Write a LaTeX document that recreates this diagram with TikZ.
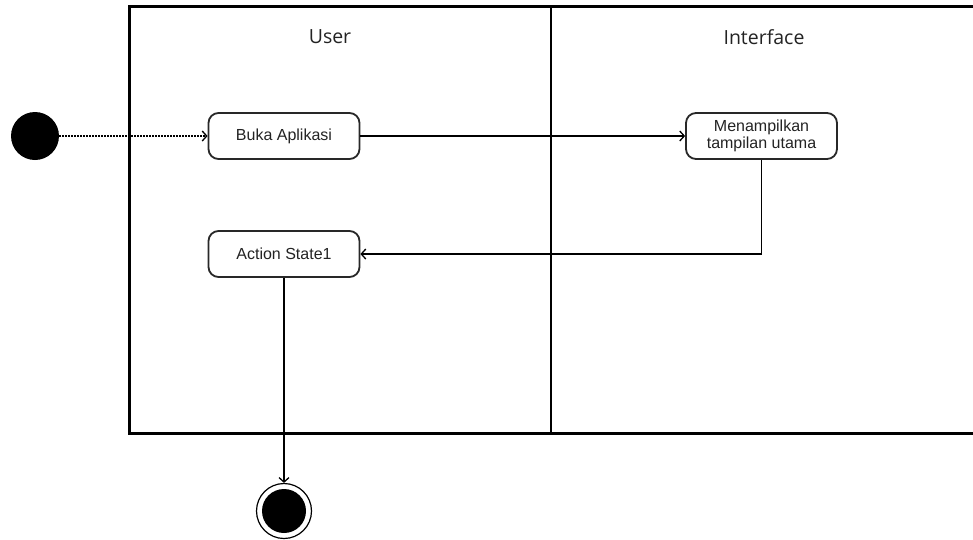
\documentclass[tikz,border=0pt]{standalone}
\usepackage{fontspec}
\setmainfont{Liberation Sans}
\newfontfamily\headfont{Open Sans}
\usetikzlibrary{arrows.meta}
\definecolor{garis}{RGB}{40,40,40}
\definecolor{teks}{RGB}{35,35,35}

\begin{document}
\begin{tikzpicture}[x=1pt,y=-1pt,
    actbox/.style={draw=garis,line width=1.8pt,rounded corners=10pt,fill=white,
      minimum width=151pt,minimum height=46pt,align=center,text=teks,
      font=\fontsize{16}{17.5}\selectfont},
    lanehead/.style={text=teks,font=\headfont\fontsize{19.5}{22}\selectfont},
    flow/.style={line width=1.3pt,-{Straight Barb[length=4.5pt,width=10pt]}}]
  \useasboundingbox (0,0) rectangle (973,539);
  % partisi
  \draw[line width=3pt] (973,6) -- (129,6) -- (129,433) -- (973,433);
  \draw[line width=1.3pt] (551,6) -- (551,433);
  \node[lanehead] (user) at (330,37) {User};
  \node[lanehead] (iface) at (764,37) {Interface};
  % aktivitas
  \node[circle,fill=black,minimum size=48pt,inner sep=0pt] (start) at (35,136) {};
  \node[actbox] (buka) at (284,136) {Buka Aplikasi};
  \node[actbox] (tampil) at (761.5,136) {Menampilkan\\tampilan utama};
  \node[actbox] (action) at (284,254) {Action State1};
  \node[circle,draw=black,line width=1.2pt,minimum size=55pt,inner sep=0pt] (final) at (284,511) {};
  \fill[black] (final.center) circle (22);
  % alur
  \draw[flow,dash pattern=on 2pt off 1pt] (start) -- (buka);
  \draw[flow] (buka) -- (tampil);
  \draw[flow] (tampil) |- (action);
  \draw[flow] (action) -- (final);
\end{tikzpicture}
\end{document}
